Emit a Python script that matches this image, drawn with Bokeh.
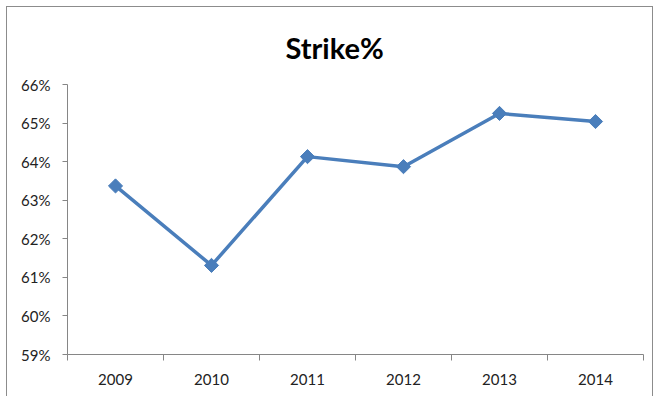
import math
from bokeh.plotting import figure
from bokeh.models import Range1d, FixedTicker, PrintfTickFormatter, ColumnDataSource, Title
from bokeh.embed import file_html
from bokeh.resources import INLINE

categories = ["2009", "2010", "2011", "2012", "2013", "2014"]
strike_pct = [63.37, 61.31, 64.13, 63.87, 65.25, 65.04]
y_ticks = [59, 60, 61, 62, 63, 64, 65, 66]

xs = [i + 0.5 for i in range(len(categories))]
src = ColumnDataSource(dict(x=xs, y=strike_pct))

FONT = "Lato"
BLUE = "#4A7EBB"
AXIS = "#868686"

p = figure(width=645, height=389, output_backend="svg", toolbar_location=None,
           x_range=Range1d(0, len(categories)), y_range=Range1d(59, 66),
           min_border_left=60, min_border_right=9, min_border_top=77, min_border_bottom=42)
p.styles = {"margin": "7px 0 0 7px", "outline": "1.5px solid #8c8c8c"}
p.outline_line_color = None
p.xgrid.visible = False
p.ygrid.visible = False
p.background_fill_color = "white"
p.border_fill_color = "white"

t = Title(text="Strike%", align="left", vertical_align="middle", text_font=FONT,
          text_font_size="29px", text_font_style="bold", text_color="#000000",
          offset=218, standoff=38)
p.add_layout(t, "above")

# y axis
p.yaxis.ticker = FixedTicker(ticks=y_ticks, minor_ticks=[])
p.yaxis.formatter = PrintfTickFormatter(format="%d%%")
p.yaxis.axis_line_color = AXIS
p.yaxis.major_tick_line_color = AXIS
p.yaxis.major_tick_out = 5
p.yaxis.major_tick_in = 0
p.yaxis.minor_tick_line_color = None
p.yaxis.major_label_standoff = 12
p.yaxis.major_label_text_font = FONT
p.yaxis.major_label_text_font_size = "15px"
p.yaxis.major_label_text_color = "#222222"

# x axis
p.xaxis.ticker = FixedTicker(ticks=xs, minor_ticks=list(range(len(categories) + 1)))
p.xaxis.major_label_overrides = {x: c for x, c in zip(xs, categories)}
p.xaxis.axis_line_color = AXIS
p.xaxis.major_tick_line_color = None
p.xaxis.major_tick_out = 6
p.xaxis.major_tick_in = 0
p.xaxis.minor_tick_line_color = AXIS
p.xaxis.minor_tick_out = 6
p.xaxis.minor_tick_in = 0
p.xaxis.major_label_standoff = 13
p.xaxis.major_label_text_font = FONT
p.xaxis.major_label_text_font_size = "15px"
p.xaxis.major_label_text_color = "#222222"

p.line("x", "y", source=src, line_color=BLUE, line_width=3.5)
p.scatter("x", "y", source=src, marker="square", angle=math.pi / 4, size=10,
          fill_color=BLUE, line_color=BLUE)

open("out.html", "w").write(file_html(p, INLINE))
